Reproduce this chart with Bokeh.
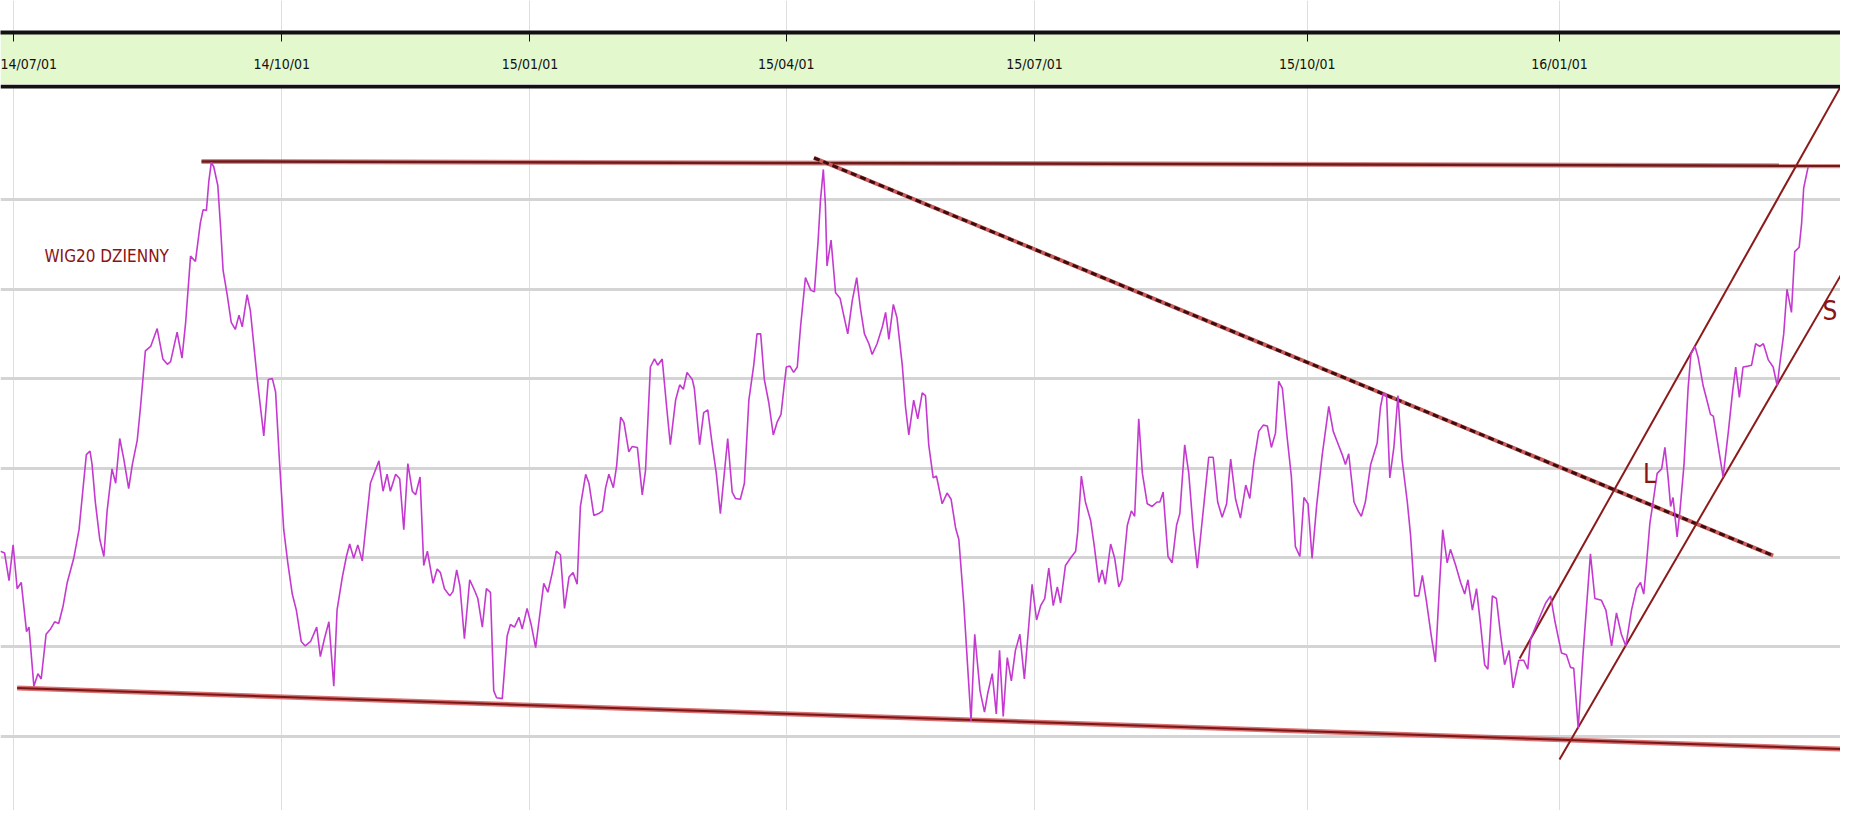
from bokeh.plotting import figure
from bokeh.models import Range1d, FixedTicker, Span, Label, Grid
from bokeh.layouts import column
from bokeh.embed import file_html
from bokeh.resources import INLINE

# ---- axis ticks (trading-session index -> date label) ----
tick_sessions = [0, 66, 127, 190, 251, 318, 380]
tick_labels = ["14/07/01", "14/10/01", "15/01/01", "15/04/01", "15/07/01", "15/10/01", "16/01/01"]
level_grid = [1700, 1800, 1900, 2000, 2100, 2200, 2300]

# ---- WIG20 daily closes (session index, level) ----
session = [
    -3.1, -2.1, -1.0, 0.0, 1.0, 2.0, 3.3, 3.9, 5.1, 6.1, 6.9, 8.1, 9.2, 10.2, 11.2, 12.3, 13.3, 14.9, 16.2, 17.2,
    18.0, 18.9, 19.4, 20.2, 21.3, 22.3, 23.1, 24.3, 25.2, 26.2, 27.2, 28.4, 29.3, 30.5, 31.3, 32.5, 33.8, 35.4, 36.8, 37.9,
    38.7, 40.3, 41.5, 42.4, 43.6, 44.8, 46.0, 46.7, 47.5, 48.1, 48.7, 49.3, 50.3, 51.0, 51.6, 52.6, 53.6, 54.6, 55.5, 56.3,
    57.5, 58.3, 60.0, 61.6, 62.7, 63.7, 64.5, 65.5, 66.5, 67.5, 68.6, 69.6, 70.8, 71.8, 73.1,
    74.6, 75.5, 76.5, 77.6, 78.8, 79.6, 80.9, 81.9, 82.7, 83.7, 84.7, 85.8, 86.6, 87.8, 88.8, 89.9, 90.9, 91.9, 92.7, 94.0,
    95.0, 96.0, 97.0, 98.1, 98.9, 100.0, 100.9, 101.8, 103.2, 104.2, 105.0, 106.0, 107.3, 108.1, 109.0, 109.8, 110.9, 112.2, 113.4, 114.2,
    115.3, 116.3, 117.3, 118.1, 118.8, 120.2, 121.4, 122.2, 123.2, 124.3, 125.1, 126.3, 127.3, 128.4, 129.4, 130.4, 131.4, 132.5, 133.5, 134.5,
    135.5, 136.6, 137.6, 138.6, 139.4, 140.7, 141.5, 142.7, 143.9, 144.8, 145.6, 146.4, 147.5, 148.3, 149.3,
    150.1, 151.3, 152.1, 153.4, 154.6, 155.4, 156.6, 157.6, 158.4, 159.5, 160.6, 161.5, 162.8, 163.8, 164.7, 165.6, 166.9, 167.4, 168.7, 169.7,
    170.7, 171.8, 172.8, 173.8, 175.6, 176.7, 177.5, 178.7, 179.7, 180.8, 182.0, 182.8, 183.7, 184.6, 185.7, 186.8, 187.8, 188.7, 189.4, 190.0,
    190.9, 191.8, 192.7, 193.5, 194.7, 196.0, 196.9, 197.8, 198.4, 199.1, 199.6, 200.0, 201.0, 202.1, 203.2, 204.1, 205.1, 206.2, 207.3, 208.2,
    209.2, 210.3, 211.1, 212.3, 213.6, 214.4, 215.2, 216.3, 217.2, 218.5, 219.3, 220.1, 221.3, 222.3, 223.4, 224.2, 225.0,
    226.1, 226.9, 228.3, 229.5, 230.5, 231.6, 232.4, 233.6, 234.6, 235.4, 236.3, 237.6, 238.7, 239.5, 240.6, 241.6, 242.4, 243.3, 244.3, 245.3,
    246.3, 247.4, 248.5, 249.6, 250.4, 251.5, 252.5, 253.5, 254.5, 255.6, 256.6, 257.4, 258.6, 259.8, 261.1, 261.6, 262.5, 263.5, 264.8, 265.7,
    266.8, 267.6, 268.4, 269.7, 270.7, 271.7, 272.5, 273.8, 274.8, 275.6, 276.6, 277.5, 278.7, 279.9, 281.1, 281.8, 282.6, 283.8, 284.8, 285.9,
    286.7, 287.9, 288.9, 290.0, 291.0, 292.2, 293.8, 294.9, 296.0, 297.1, 298.2, 299.2, 300.4, 301.6,
    302.9, 303.9, 304.9, 306.1, 307.2, 308.2, 309.2, 310.2, 311.0, 311.9, 313.1, 314.1, 315.1, 316.2, 317.2, 318.2, 319.2, 320.3, 321.7, 323.3,
    324.4, 325.5, 326.6, 327.4, 328.2, 329.5, 330.5, 331.3, 332.3, 333.6, 335.2, 336.0, 336.7, 337.5, 338.3, 339.3, 340.3, 341.3, 342.6, 343.4,
    344.4, 345.4, 346.3, 347.3, 348.5, 349.5, 350.4, 351.3, 352.4, 353.2, 354.5, 355.7, 356.7, 357.5, 358.6, 359.6, 360.6, 361.6, 362.4, 363.5,
    364.5, 365.5, 366.5, 367.6, 368.6, 370.0, 371.2, 372.2, 372.9, 374.1, 375.3, 376.6, 377.8,
    378.9, 380.5, 381.7, 382.7, 383.5, 384.6, 385.8, 387.6, 388.7, 390.3, 391.4, 392.8, 394.0, 395.2, 396.3, 397.7, 398.9, 399.9, 400.7, 401.4,
    402.2, 403.0, 404.0, 405.1, 405.9, 406.7, 407.3, 407.9, 408.9, 409.6, 410.6, 411.6, 412.3, 413.3, 414.1, 415.3, 416.1, 417.1, 417.8, 418.7,
    420.2, 421.5, 422.5, 423.3, 424.2, 425.1, 426.4, 427.2, 428.2, 429.2, 430.1, 431.3, 432.5, 433.5, 434.1, 435.1, 435.9, 437.0, 437.8, 438.9,
    439.5, 440.0, 441.1,
]
close = [
    1907, 1905, 1874, 1914, 1865, 1872, 1817, 1822, 1756, 1770, 1764, 1814, 1820, 1828, 1826, 1846, 1872, 1899, 1931, 1978,
    2015, 2019, 2004, 1962, 1920, 1901, 1952, 1999, 1983, 2033, 2010, 1977, 2004, 2031, 2068, 2131, 2136, 2156, 2122, 2116,
    2119, 2152, 2123, 2163, 2237, 2231, 2274, 2289, 2288, 2321, 2342, 2337, 2316, 2268, 2221, 2194, 2163, 2155, 2171, 2158,
    2194, 2176, 2099, 2036, 2099, 2100, 2085, 2004, 1931, 1894, 1859, 1841, 1806, 1801, 1806,
    1822, 1789, 1809, 1828, 1756, 1841, 1878, 1901, 1915, 1899, 1914, 1896, 1931, 1983, 1995, 2008, 1974, 1993, 1974, 1993,
    1988, 1931, 2005, 1974, 1970, 1990, 1891, 1907, 1871, 1887, 1883, 1865, 1857, 1862, 1886, 1868, 1809, 1875, 1863, 1854,
    1822, 1865, 1861, 1751, 1743, 1742, 1812, 1825, 1822, 1833, 1820, 1843, 1825, 1799, 1835, 1871, 1861, 1883, 1907, 1903,
    1843, 1878, 1883, 1870, 1957, 1993, 1983, 1947, 1949, 1952, 1978, 1993, 1978, 2002, 2057,
    2051, 2018, 2024, 2023, 1970, 1997, 2113, 2122, 2115, 2122, 2068, 2026, 2076, 2093, 2088, 2107, 2099, 2089, 2026, 2062,
    2065, 2026, 1994, 1949, 2033, 1973, 1966, 1965, 1983, 2076, 2115, 2150, 2150, 2099, 2073, 2037, 2052, 2060, 2089, 2113,
    2114, 2107, 2113, 2158, 2213, 2199, 2197, 2253, 2300, 2334, 2295, 2226, 2255, 2196, 2190, 2171, 2150, 2187, 2213, 2179,
    2150, 2139, 2127, 2139, 2158, 2174, 2144, 2183, 2168, 2115, 2068, 2037, 2076, 2055, 2084, 2081, 2026,
    1989, 1991, 1960, 1972, 1965, 1933, 1920, 1849, 1775, 1717, 1814, 1751, 1727, 1748, 1770, 1725, 1796, 1722, 1788, 1762,
    1796, 1814, 1764, 1825, 1870, 1830, 1846, 1854, 1888, 1846, 1867, 1849, 1891, 1899, 1907, 1928, 1991, 1962, 1941, 1912,
    1872, 1886, 1870, 1915, 1899, 1867, 1875, 1936, 1952, 1946, 2055, 1994, 1960, 1957, 1962, 1962, 1973, 1901, 1894, 1936,
    1949, 2026, 1994, 1931, 1888, 1941, 2012, 2012, 1962, 1945, 1960, 2010, 1965, 1944,
    1981, 1966, 2007, 2041, 2048, 2047, 2023, 2039, 2097, 2089, 2033, 1991, 1912, 1901, 1967, 1960, 1899, 1957, 2015, 2069,
    2041, 2028, 2015, 2004, 2016, 1962, 1952, 1946, 1962, 2004, 2028, 2068, 2084, 2081, 1989, 2023, 2081, 2010, 1962, 1925,
    1857, 1857, 1880, 1851, 1812, 1783, 1859, 1931, 1894, 1909, 1891, 1872, 1859, 1875, 1841, 1865, 1825, 1780, 1775, 1857,
    1854, 1814, 1780, 1796, 1754, 1785, 1785, 1775, 1809, 1822, 1835, 1849, 1857,
    1828, 1793, 1791, 1777, 1776, 1709, 1793, 1904, 1854, 1852, 1841, 1801, 1838, 1814, 1801, 1841, 1865, 1872, 1859, 1894,
    1938, 1962, 1994, 1999, 2023, 1989, 1957, 1967, 1923, 1952, 2004, 2089, 2128, 2136, 2123, 2092, 2078, 2060, 2058, 2033,
    1990, 2041, 2084, 2113, 2079, 2113, 2114, 2115, 2139, 2136, 2139, 2121, 2113, 2092, 2115, 2150, 2200, 2174, 2242, 2247,
    2274, 2313, 2337,
]

# ---- trend lines drawn on the chart (session, level) ----
resistance_x = [46.3, 453.0]
resistance_y = [2343, 2338]
downtrend_x = [196.8, 432.5]
downtrend_y = [2347, 1902]
support_x = [1.0, 453.0]
support_y = [1754, 1685]
channel_top_x = [370.2, 449.0]
channel_top_y = [1787, 2426]
channel_bot_x = [380.0, 453.0]
channel_bot_y = [1674, 2246]

NARROW = "DejaVu Sans Condensed"
DARK_RED = "#8a1414"

x_range = Range1d(-3.1, 449.05)

# ---------------- top strip with date axis ----------------
top = figure(width=1840, height=84, x_range=x_range, y_range=Range1d(0, 1),
             output_backend="svg", toolbar_location=None,
             x_axis_location="below", y_axis_location=None,
             min_border_left=0, min_border_right=0, min_border_top=0, min_border_bottom=52,
             border_fill_color="#e4f8cd", background_fill_color="white",
             outline_line_color=None)
top.center = [c for c in top.center if not isinstance(c, Grid)]
ax = top.xaxis[0]
ax.ticker = FixedTicker(ticks=tick_sessions)
ax.major_label_overrides = {t: l for t, l in zip(tick_sessions, tick_labels)}
ax.axis_line_color = "#111111"
ax.axis_line_width = 4
ax.major_tick_out = 9
ax.major_tick_in = 0
ax.major_tick_line_color = "#111111"
ax.major_tick_line_width = 1
ax.minor_tick_line_color = None
ax.major_label_standoff = 14
ax.major_label_text_font = NARROW
ax.major_label_text_font_size = "14px"
ax.major_label_text_color = "#111111"
top.add_layout(Grid(dimension=0, ticker=FixedTicker(ticks=tick_sessions),
                    grid_line_color="#dedede", grid_line_width=1), "center")

# ---------------- main price panel ----------------
main = figure(width=1840, height=726, x_range=x_range, y_range=Range1d(1616.9, 2429.0),
              output_backend="svg", toolbar_location=None,
              x_axis_location=None, y_axis_location=None,
              min_border_left=0, min_border_right=0, min_border_top=0, min_border_bottom=0,
              background_fill_color="white", border_fill_color="white",
              outline_line_color=None)
main.center = [c for c in main.center if not isinstance(c, Grid)]
main.add_layout(Grid(dimension=0, ticker=FixedTicker(ticks=tick_sessions),
                     grid_line_color="#dedede", grid_line_width=1), "center")
main.add_layout(Grid(dimension=1, ticker=FixedTicker(ticks=level_grid),
                     grid_line_color="#d4d4d4", grid_line_width=3), "center")

# support line
main.line(support_x, support_y, line_color="#d25a5a", line_width=5, line_alpha=0.85)
main.line(support_x, support_y, line_color="#7a1616", line_width=2)
# resistance line
main.line(resistance_x, resistance_y, line_color="#c87070", line_width=5, line_alpha=0.8)
main.line(resistance_x, resistance_y, line_color="#6e1a1a", line_width=2.5)
# descending trend line
main.line(downtrend_x, downtrend_y, line_color="#c85a5a", line_width=4)
main.line(downtrend_x, downtrend_y, line_color="#3d0d0d", line_width=3, line_dash="6 4")
# rising channel
main.line(channel_top_x, channel_top_y, line_color="#8b1a1a", line_width=2)
main.line(channel_bot_x, channel_bot_y, line_color="#8b1a1a", line_width=2)

# price
main.line(session, close, line_color="#c43ad0", line_width=1.6)

main.add_layout(Span(location=2426.7, dimension="width", line_color="#111111", line_width=4))

main.add_layout(Label(x=23, y=2237, text="WIG20 DZIENNY", text_font=NARROW, text_font_size="17px",
                      text_color=DARK_RED, text_align="center", text_baseline="middle"))
main.add_layout(Label(x=402.1, y=1993, text="L", text_font=NARROW, text_font_size="26px",
                      text_color=DARK_RED, text_align="center", text_baseline="middle"))
main.add_layout(Label(x=448.3, y=2176, text="S", text_font=NARROW, text_font_size="26px",
                      text_color=DARK_RED, text_align="right", text_baseline="middle"))

layout = column(top, main, spacing=0)
open("out.html", "w").write(file_html(layout, INLINE))
